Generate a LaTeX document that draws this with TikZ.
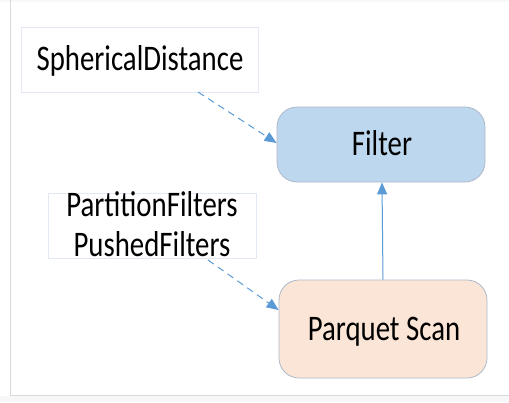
\documentclass[tikz,border=0pt]{standalone}
\usepackage{fontspec}
\setmainfont{Carlito}
\usetikzlibrary{arrows.meta}
\definecolor{arrowblue}{HTML}{5B9BD5}
\definecolor{filterfill}{HTML}{BDD7EE}
\definecolor{scanfill}{HTML}{FBE5D6}
\definecolor{boxline}{HTML}{ADB9CA}
\definecolor{lightline}{HTML}{E3E9F2}
\definecolor{frameline}{HTML}{D6D9DE}
\newcommand{\lbl}[1]{\fontsize{36}{40}\selectfont\scalebox{0.8}[1]{#1}}
\tikzset{
  x=1pt, y=-1pt,
  opbox/.style={draw=boxline, line width=0.8pt, rounded corners=20pt, minimum width=208pt, inner sep=0pt},
  txtbox/.style={draw=lightline, line width=0.8pt, fill=white, inner sep=0pt},
  txt/.style={inner sep=0pt, anchor=base},
  dasharrow/.style={draw=arrowblue, line width=1pt, dash pattern=on 7pt off 5pt, -{Triangle[length=12pt,width=10pt]}},
  solidarrow/.style={draw=arrowblue, line width=1pt, -{Triangle[length=12pt,width=10pt]}}
}
\begin{document}
\begin{tikzpicture}
\useasboundingbox (0,0) rectangle (509,402);
\fill[white] (0,0) rectangle (509,402);
\fill[black!3] (0,0) rectangle (509,2);
\fill[blue!2!black!3] (0,396) rectangle (509,402);
\draw[frameline, line width=1.2pt] (10.5,0) -- (10.5,395.5) -- (509,395.5);
% boxes
\node[txtbox, minimum width=237pt, minimum height=65pt] (sd) at (139.5,59.5) {};
\node[txt] (sdt) at (140,70) {\lbl{SphericalDistance}};
\node[txtbox, minimum width=208pt, minimum height=65pt] (pf) at (152,225.5) {};
\node[txt] (pft1) at (152,216) {\lbl{PartitionFilters}};
\node[txt] (pft2) at (152,256) {\lbl{PushedFilters}};
\node[opbox, fill=filterfill, minimum height=75pt] (filter) at (381,144.5) {};
\node[txt] (filtert) at (382,155) {\lbl{Filter}};
\node[opbox, fill=scanfill, minimum height=98pt] (scan) at (383,329) {};
\node[txt] (scant) at (384,340) {\lbl{Parquet Scan}};
% connectors
\coordinate (sdout) at (198,92);
\coordinate (pfout) at (208,260);
\draw[dasharrow] (sdout) -- (filter.west |- 0,143);
\draw[dasharrow] (pfout) -- (scan.west |- 0,310);
\draw[solidarrow] (scan.north -| 383,0) -- (filter.south -| 382,0);
\end{tikzpicture}
\end{document}
